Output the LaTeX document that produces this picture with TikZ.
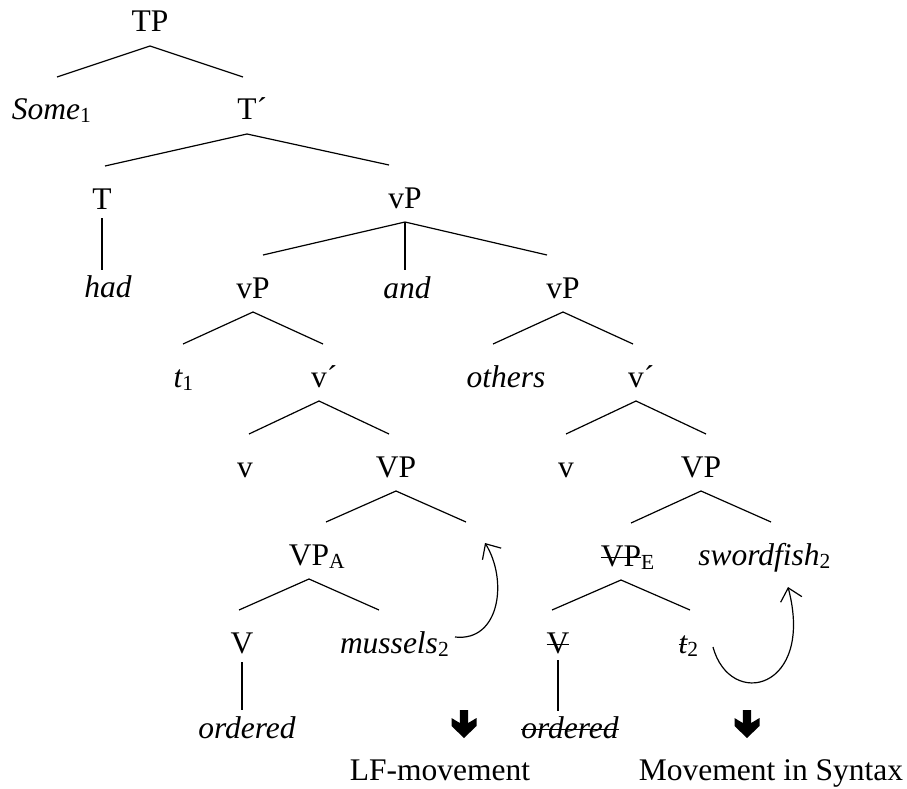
\documentclass[tikz,border=0pt]{standalone}
\usepackage{fontspec}
\setmainfont{Liberation Serif}
\usetikzlibrary{calc,arrows.meta}
\newsavebox\strkbox
\newcommand\strk[1]{\sbox\strkbox{#1}\rlap{\rule[8pt]{\wd\strkbox}{1.2pt}}\usebox\strkbox}
\newcommand\subs[1]{\rlap{\raisebox{-3pt}{\fontsize{21.5}{22}\selectfont\upshape #1}}}
\newcommand\prm{\rlap{´}}
\newcommand\branch[3]{\draw[edge] let \p1=(#1.base), \p2=(#2.base) in (\x1,\y1-14pt) -- (\x1+#3pt,\y2+43pt);}
\newcommand\branchfree[3]{\draw[edge] let \p1=(#1.base) in (\x1,\y1-14pt) -- (\x1+#3pt,\y1-45pt) coordinate (#2);}
\newcommand\unary[4]{\draw[edge] let \p1=(#1.base), \p2=(#2.base) in (\x1,\y1-#3pt) -- (\x1,\y2+#4pt);}
\newcommand\heavydown[1]{\fill ($(#1)+(-4.2,0)$) -- ($(#1)+(-4.2,13)$) -- ($(#1)+(-12.5,8)$) -- ($(#1)+(-12.5,16)$) -- ($(#1)+(0,28)$) -- ($(#1)+(12.5,16)$) -- ($(#1)+(12.5,8)$) -- ($(#1)+(4.2,13)$) -- ($(#1)+(4.2,0)$) -- cycle;}
\tikzset{
  lbl/.style={anchor=base, inner sep=0pt, font=\fontsize{31.5}{38}\selectfont},
  itl/.style={lbl, font=\fontsize{31.5}{38}\selectfont\itshape},
  edge/.style={line width=1.2pt},
  mv/.style={line width=1.2pt, -{Straight Barb[length=12pt,width=22pt]}}
}
\begin{document}
\begin{tikzpicture}[x=1pt,y=-1pt]
\useasboundingbox (0,0) rectangle (907,789);
% nodes
\node[lbl] (tp) at (150,32) {TP};
\node[itl] (some) at (46,120) {Some\subs{1}};
\node[lbl] (tbar) at (247,120) {T\prm};
\node[lbl] (t) at (102,209) {T};
\node[lbl] (vp0) at (405,208) {vP};
\node[itl] (had) at (108,297) {had};
\node[lbl] (vpl) at (253,298) {vP};
\node[itl] (and) at (407,298) {and};
\node[lbl] (vpr) at (563,298) {vP};
\node[itl] (t1) at (178,387) {t\subs{1}};
\node[lbl] (vbl) at (319,387) {v\prm};
\node[itl] (oth) at (506,387) {others};
\node[lbl] (vbr) at (636,387) {v\prm};
\node[lbl] (vl) at (245,477) {v};
\node[lbl] (VPl) at (396,477) {VP};
\node[lbl] (vr) at (566,477) {v};
\node[lbl] (VPr) at (701,477) {VP};
\node[lbl] (vpa) at (309,565) {VP\subs{A}};
\node[lbl] (vpe) at (621,566) {\strk{VP}\subs{E}};
\node[itl] (sword) at (759,565) {swordfish\subs{2}};
\node[lbl] (Vl) at (242,653) {V};
\node[itl] (mus) at (389,653) {mussels\subs{2}};
\node[lbl] (Vr) at (558,653) {\strk{V}};
\node[itl] (t2) at (683,653) {\strk{t}\subs{2}};
\node[itl] (ordl) at (247,738) {ordered};
\node[itl] (ordr) at (570,738) {\strk{ordered}};
\node[lbl] (lf) at (440,780) {LF-movement};
\node[lbl] (syn) at (771,780) {Movement in Syntax};
% branches
\branch{tp}{some}{-93}
\branch{tp}{tbar}{93}
\branch{tbar}{t}{-142}
\branch{tbar}{vp0}{142}
\unary{t}{had}{9}{27}
\branch{vp0}{vpl}{-142}
\branch{vp0}{vpr}{142}
\unary{vp0}{and}{14}{28}
\branch{vpl}{t1}{-70}
\branch{vpl}{vbl}{70}
\branch{vpr}{oth}{-70}
\branch{vpr}{vbr}{70}
\branch{vbl}{vl}{-70}
\branch{vbl}{VPl}{70}
\branch{vbr}{vr}{-70}
\branch{vbr}{VPr}{70}
\branch{VPl}{vpa}{-70}
\branchfree{VPl}{gap}{70}
\branch{VPr}{vpe}{-70}
\branch{VPr}{sword}{70}
\branch{vpa}{Vl}{-70}
\branch{vpa}{mus}{70}
\branch{vpe}{Vr}{-69}
\branch{vpe}{t2}{69}
\unary{Vl}{ordl}{9}{28}
\unary{Vr}{ordr}{7}{27}
% movement arrows
\coordinate (m1) at ($(mus.base)+(66,-16)$);
\coordinate (m2) at ($(VPl.base)+(89,66)$);
\draw[mv] (m1) .. controls ($(m1)+(45,5)$) and ($(m2)+(23,37)$) .. (m2);
\coordinate (s1) at ($(t2.base)+(30,-6)$);
\coordinate (s2) at ($(sword.base)+(29,22)$);
\draw[mv] (s1) .. controls ($(s1)+(17,63)$) and ($(s2)+(27,103)$) .. (s2);
% heavy down arrows
\coordinate (d1) at ($(lf.base)+(24,-70)$);
\coordinate (d2) at ($(syn.base)+(-24,-70)$);
\heavydown{d1}
\heavydown{d2}
\end{tikzpicture}
\end{document}
